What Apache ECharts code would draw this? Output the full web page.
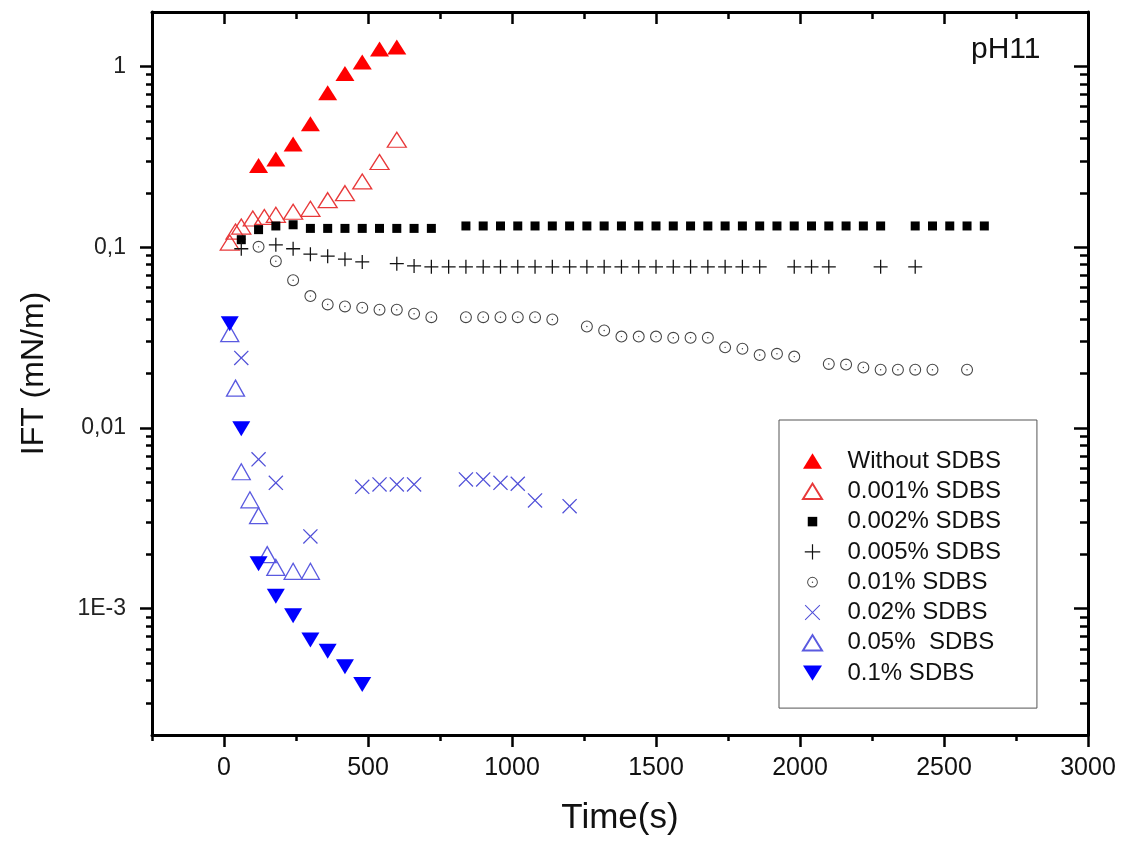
<!DOCTYPE html>
<html>
<head>
<meta charset="utf-8">
<script src="https://cdn.jsdelivr.net/npm/echarts@6/dist/echarts.min.js"></script>
<style>
html,body{margin:0;padding:0;background:#fff;}
#chart{width:1123px;height:843px;}
</style>
</head>
<body>
<div id="chart"></div>
<script>
// ---- Tick definitions ----
const xMajorTicks = [0, 500, 1000, 1500, 2000, 2500, 3000];
const xTickLabels = ['0', '500', '1000', '1500', '2000', '2500', '3000'];
const xMinorTicks = [-250, 250, 750, 1250, 1750, 2250, 2750];
const yMajorTicks = [0.001, 0.01, 0.1, 1];
const yTickLabels = ['1E-3', '0,01', '0,1', '1'];
const yMinorTicks = [3e-4, 4e-4, 5e-4, 6e-4, 7e-4, 8e-4, 9e-4,
  2e-3, 3e-3, 4e-3, 5e-3, 6e-3, 7e-3, 8e-3, 9e-3,
  2e-2, 3e-2, 4e-2, 5e-2, 6e-2, 7e-2, 8e-2, 9e-2,
  0.2, 0.3, 0.4, 0.5, 0.6, 0.7, 0.8, 0.9];

// ---- Series names ----
const seriesNames = ['Without SDBS', '0.001% SDBS', '0.002% SDBS', '0.005% SDBS',
  '0.01% SDBS', '0.02% SDBS', '0.05%  SDBS', '0.1% SDBS'];

// ---- Data (time in s, IFT in mN/m) ----
const tWithout = [120, 180, 240, 300, 360, 420, 480, 540, 600];
const vWithout = [0.283, 0.307, 0.372, 0.482, 0.714, 0.914, 1.057, 1.25, 1.28];

const t001 = [20, 40, 60, 100, 140, 180, 240, 300, 360, 420, 480, 540, 600];
const v001 = [0.106, 0.122, 0.130, 0.144, 0.147, 0.151, 0.157, 0.163, 0.182, 0.199, 0.231, 0.296, 0.393];

const t002 = [60, 120, 180, 240, 300, 360, 420, 480, 540, 600, 660, 720,
  840, 900, 960, 1020, 1080, 1140, 1200, 1260, 1320, 1380, 1440, 1500, 1560, 1620, 1680,
  1740, 1800, 1860, 1920, 1980, 2040, 2100, 2160, 2220, 2280,
  2400, 2460, 2520, 2580, 2640];
const v002 = [0.110, 0.125, 0.131, 0.133, 0.127, 0.127, 0.127, 0.127, 0.127, 0.127, 0.127, 0.127,
  0.131, 0.131, 0.131, 0.131, 0.131, 0.131, 0.131, 0.131, 0.131, 0.131, 0.131, 0.131, 0.131, 0.131, 0.131,
  0.131, 0.131, 0.131, 0.131, 0.131, 0.131, 0.131, 0.131, 0.131, 0.131,
  0.131, 0.131, 0.131, 0.131, 0.131];

const t005 = [60, 180, 240, 300, 360, 420, 480,
  600, 660, 720, 780, 840, 900, 960, 1020, 1080, 1140, 1200, 1260, 1320, 1380, 1440, 1500,
  1560, 1620, 1680, 1740, 1800, 1860, 1980, 2040, 2100, 2280, 2400];
const v005 = [0.098, 0.103, 0.098, 0.0914, 0.0891, 0.0858, 0.0828,
  0.0810, 0.0787, 0.0778, 0.0778, 0.0778, 0.0778, 0.0778, 0.0778, 0.0778, 0.0778, 0.0778, 0.0778, 0.0778, 0.0778, 0.0778, 0.0778,
  0.0778, 0.0778, 0.0778, 0.0778, 0.0778, 0.0778, 0.0778, 0.0778, 0.0778, 0.0778, 0.0778];

const t01 = [120, 180, 240, 300, 360, 420, 480, 540, 600, 660, 720,
  840, 900, 960, 1020, 1080, 1140,
  1260, 1320, 1380, 1440, 1500, 1560, 1620, 1680, 1740, 1800, 1860, 1920, 1980,
  2100, 2160, 2220, 2280, 2340, 2400, 2460, 2580];
const v01 = [0.1004, 0.0836, 0.0656, 0.0536, 0.0482, 0.0470, 0.0462, 0.0451, 0.0451, 0.0428, 0.0410,
  0.0410, 0.0410, 0.0410, 0.0410, 0.0410, 0.0398,
  0.0364, 0.0346, 0.0320, 0.0320, 0.0320, 0.0315, 0.0315, 0.0315, 0.0279, 0.0274, 0.0253, 0.0257, 0.0248,
  0.0226, 0.0224, 0.0216, 0.0210, 0.0210, 0.0210, 0.0210, 0.0210];

const t02 = [60, 120, 180, 300, 480, 540, 600, 660, 840, 900, 960, 1020, 1080, 1200];
const v02 = [0.0244, 0.0067, 0.00497, 0.00251, 0.00472, 0.00487, 0.00487, 0.00487,
  0.00519, 0.00519, 0.00497, 0.00491, 0.00397, 0.00369];

const t05 = [20, 40, 60, 90, 120, 150, 180, 240, 300];
const v05 = [0.0332, 0.0166, 0.00572, 0.0040, 0.00327, 0.00199, 0.00169, 0.00161, 0.00161];

const t1 = [20, 60, 120, 180, 240, 300, 360, 420, 480];
const v1 = [0.0377, 0.0099, 0.00177, 0.00117, 0.000914, 0.00067, 0.000582, 0.000477, 0.00038];

function zip(t, v) { return t.map((x, i) => [x, v[i]]); }

// ---- Symbols ----
const SYM_PLUS = 'path://M4.55,0 h0.9 v4.55 h4.55 v0.9 h-4.55 v4.55 h-0.9 v-4.55 h-4.55 v-0.9 h4.55 z';
const SYM_X = 'path://M0,0.6 L0.6,0 L5,4.4 L9.4,0 L10,0.6 L5.6,5 L10,9.4 L9.4,10 L5,5.6 L0.6,10 L0,9.4 L4.4,5 Z';
const SYM_DOT_CIRCLE = 'path://M5,0 A5,5 0 1,1 5,10 A5,5 0 1,1 5,0 Z M5,0.9 A4.1,4.1 0 1,0 5,9.1 A4.1,4.1 0 1,0 5,0.9 Z M5,4.4 A0.6,0.6 0 1,1 5,5.6 A0.6,0.6 0 1,1 5,4.4 Z';
const SYM_DOWN = 'path://M0,0 L10,0 L5,8.5 Z';

// legend icons (padded boxes so smaller glyphs stay small)
const LEG_SQUARE = 'path://M0,0 M16,16 M4,4 h8 v8 h-8 z';
const LEG_PLUS = 'path://M0,0 M16,16 M7.5,1.5 h1 v6 h6 v1 h-6 v6 h-1 v-6 h-6 v-1 h6 z';
const LEG_CIRCLE = 'path://M0,0 M16,16 M8,3.5 A4.5,4.5 0 1,1 8,12.5 A4.5,4.5 0 1,1 8,3.5 Z M8,4.3 A3.7,3.7 0 1,0 8,11.7 A3.7,3.7 0 1,0 8,4.3 Z M8,7.4 A0.6,0.6 0 1,1 8,8.6 A0.6,0.6 0 1,1 8,7.4 Z';
const LEG_X = 'path://M0,0 M16,16 M1.5,2.1 L2.1,1.5 L8,7.4 L13.9,1.5 L14.5,2.1 L8.6,8 L14.5,13.9 L13.9,14.5 L8,8.6 L2.1,14.5 L1.5,13.9 L7.4,8 Z';
const LEG_UP = 'path://M0,0 M16,16 M0,14.5 L8,1.5 L16,14.5 Z';
const LEG_DOWN = 'path://M0,0 M16,16 M0,1.5 L16,1.5 L8,14.5 Z';

const FONT = '"Liberation Sans", Arial, sans-serif';

const chart = echarts.init(document.getElementById('chart'), null, { renderer: 'canvas' });

function nearestLabel(v, ticks, labels, isLog) {
  let best = 0, bd = Infinity;
  ticks.forEach((t, i) => {
    const d = isLog ? Math.abs(Math.log10(v) - Math.log10(t)) : Math.abs(v - t);
    if (d < bd) { bd = d; best = i; }
  });
  return labels[best];
}

const axisLineStyle = { color: '#000', width: 3 };
const tickStyle = { color: '#000', width: 2.5 };

const baseX = { type: 'value', min: -250, max: 3000, splitLine: { show: false } };
const baseY = { type: 'log', min: 2e-4, max: 2, logBase: 10, splitLine: { show: false } };

const option = {
  animation: false,
  backgroundColor: '#fff',
  grid: { left: 152, right: 35, top: 12, bottom: 108, containLabel: false },
  xAxis: [
    Object.assign({}, baseX, {
      position: 'bottom',
      name: 'Time(s)', nameLocation: 'middle', nameGap: 66,
      nameTextStyle: { fontFamily: FONT, fontSize: 35, color: '#111' },
      axisLine: { show: true, onZero: false, lineStyle: axisLineStyle },
      axisTick: { show: true, inside: false, length: 12, lineStyle: tickStyle, customValues: xMajorTicks },
      axisLabel: { show: true, margin: 21, fontFamily: FONT, fontSize: 25, color: '#111',
        customValues: xMajorTicks,
        formatter: (v) => nearestLabel(v, xMajorTicks, xTickLabels, false) }
    }),
    Object.assign({}, baseX, {
      position: 'bottom',
      axisLine: { show: false, onZero: false },
      axisTick: { show: true, inside: false, length: 6, lineStyle: tickStyle, customValues: xMinorTicks },
      axisLabel: { show: false }
    }),
    Object.assign({}, baseX, {
      position: 'top',
      axisLine: { show: true, onZero: false, lineStyle: axisLineStyle },
      axisTick: { show: true, inside: true, length: 12, lineStyle: tickStyle, customValues: xMajorTicks },
      axisLabel: { show: false }
    }),
    Object.assign({}, baseX, {
      position: 'top',
      axisLine: { show: false, onZero: false },
      axisTick: { show: true, inside: true, length: 7, lineStyle: tickStyle, customValues: xMinorTicks },
      axisLabel: { show: false }
    })
  ],
  yAxis: [
    Object.assign({}, baseY, {
      position: 'left',
      name: 'IFT (mN/m)', nameLocation: 'middle', nameGap: 102,
      nameTextStyle: { fontFamily: FONT, fontSize: 32, color: '#111' },
      axisLine: { show: true, onZero: false, lineStyle: axisLineStyle },
      axisTick: { show: true, inside: false, length: 12, lineStyle: tickStyle, customValues: yMajorTicks },
      axisLabel: { show: true, margin: 26, fontFamily: FONT, fontSize: 23, color: '#222',
        customValues: yMajorTicks,
        formatter: (v) => nearestLabel(v, yMajorTicks, yTickLabels, true) }
    }),
    Object.assign({}, baseY, {
      position: 'left',
      axisLine: { show: false, onZero: false },
      axisTick: { show: true, inside: false, length: 6, lineStyle: tickStyle, customValues: yMinorTicks },
      axisLabel: { show: false }
    }),
    Object.assign({}, baseY, {
      position: 'right',
      axisLine: { show: true, onZero: false, lineStyle: axisLineStyle },
      axisTick: { show: true, inside: true, length: 14, lineStyle: tickStyle, customValues: yMajorTicks },
      axisLabel: { show: false }
    }),
    Object.assign({}, baseY, {
      position: 'right',
      axisLine: { show: false, onZero: false },
      axisTick: { show: true, inside: true, length: 8, lineStyle: tickStyle, customValues: yMinorTicks },
      axisLabel: { show: false }
    })
  ],
  legend: {
    orient: 'vertical',
    left: 779, top: 420,
    padding: [29, 36, 23, 23],
    backgroundColor: '#fff',
    borderColor: '#555', borderWidth: 1, borderRadius: 0,
    itemWidth: 60, itemHeight: 19, itemGap: 6.3,
    symbolKeepAspect: true,
    textStyle: { fontFamily: FONT, fontSize: 24, color: '#111', padding: [0, 0, 0, 0] },
    data: [
      { name: seriesNames[0], icon: LEG_UP },
      { name: seriesNames[1], icon: LEG_UP },
      { name: seriesNames[2], icon: LEG_SQUARE },
      { name: seriesNames[3], icon: LEG_PLUS },
      { name: seriesNames[4], icon: LEG_CIRCLE },
      { name: seriesNames[5], icon: LEG_X },
      { name: seriesNames[6], icon: LEG_UP },
      { name: seriesNames[7], icon: LEG_DOWN }
    ]
  },
  graphic: [
    { type: 'text', left: 971, top: 35, z: 100,
      style: { text: 'pH11', fontFamily: FONT, fontSize: 30, fill: '#111' } }
  ],
  series: [
    { name: seriesNames[0], type: 'scatter', data: zip(tWithout, vWithout),
      symbol: 'triangle', symbolSize: [19, 15],
      itemStyle: { color: '#ff0000', opacity: 1 } },
    { name: seriesNames[1], type: 'scatter', data: zip(t001, v001),
      symbol: 'triangle', symbolSize: [19, 15],
      itemStyle: { color: 'rgba(0,0,0,0)', borderColor: '#e8393a', borderWidth: 1.3, opacity: 1 } },
    { name: seriesNames[2], type: 'scatter', data: zip(t002, v002),
      symbol: 'rect', symbolSize: 9,
      itemStyle: { color: '#000', opacity: 1 } },
    { name: seriesNames[3], type: 'scatter', data: zip(t005, v005),
      symbol: SYM_PLUS, symbolSize: 14,
      itemStyle: { color: '#111', opacity: 1 } },
    { name: seriesNames[4], type: 'scatter', data: zip(t01, v01),
      symbol: SYM_DOT_CIRCLE, symbolSize: 12,
      itemStyle: { color: '#444', opacity: 1 } },
    { name: seriesNames[5], type: 'scatter', data: zip(t02, v02),
      symbol: SYM_X, symbolSize: 15,
      itemStyle: { color: '#5050d8', opacity: 1 } },
    { name: seriesNames[6], type: 'scatter', data: zip(t05, v05),
      symbol: 'triangle', symbolSize: [18, 16],
      itemStyle: { color: 'rgba(0,0,0,0)', borderColor: '#5a5ae0', borderWidth: 1.3, opacity: 1 } },
    { name: seriesNames[7], type: 'scatter', data: zip(t1, v1),
      symbol: SYM_DOWN, symbolSize: [18, 15],
      itemStyle: { color: '#0000ff', opacity: 1 } }
  ]
};

chart.setOption(option);
</script>
</body>
</html>
